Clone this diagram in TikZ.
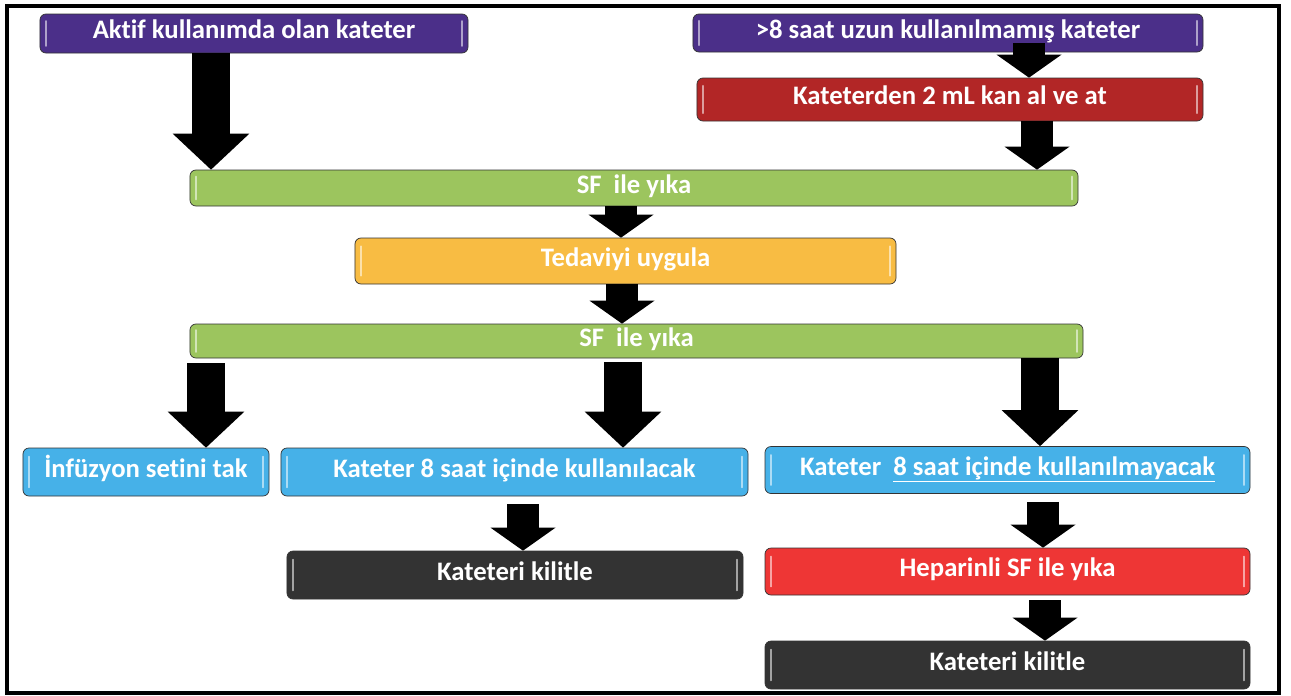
\documentclass[tikz,border=0pt]{standalone}
\usepackage{fontspec}
\setmainfont[Ligatures=NoCommon]{Carlito}
\usetikzlibrary{arrows.meta,calc}
\definecolor{mor}{HTML}{4B2F89}
\definecolor{bordo}{HTML}{B22626}
\definecolor{yesil}{HTML}{9CC55E}
\definecolor{turuncu}{HTML}{F8BC43}
\definecolor{mavi}{HTML}{46B1E8}
\definecolor{koyu}{HTML}{333333}
\definecolor{kirmizi}{HTML}{EE3635}
\newcommand{\kutufont}{\fontsize{22.8}{26}\selectfont\bfseries}
\tikzset{kutu/.append style={draw=black!80, line width=0.6pt, rounded corners=0.18cm, text=white, font=\kutufont, inner sep=0pt, text height=15pt, text depth=6.2pt}}
\tikzset{parla/.style={fill=#1, path picture={
    \draw[line width=1.5pt, #1!45!white, line cap=round]
      ($(path picture bounding box.south west)!0.18!(path picture bounding box.north west)+(0.19cm,0)$) --
      ($(path picture bounding box.south west)!0.82!(path picture bounding box.north west)+(0.19cm,0)$)
      ($(path picture bounding box.south east)!0.18!(path picture bounding box.north east)+(-0.19cm,0)$) --
      ($(path picture bounding box.south east)!0.82!(path picture bounding box.north east)+(-0.19cm,0)$);}}}
\tikzset{ok/.append style={line width=0.96cm, -{Triangle[width=1.95cm,length=0.69cm,line width=0pt]}}}
\tikzset{bok/.append style={line width=1.14cm, -{Triangle[width=2.3cm,length=1.08cm,line width=0pt]}}}

\begin{document}
\begin{tikzpicture}[x=0.03cm,y=-0.03cm]
                \useasboundingbox (0,0) rectangle (1291,695);
                \draw[line width=0.13cm] (7,6) rectangle (1279,693);
                % kutular
                \node[kutu,parla=mor,minimum width=12.84cm,minimum height=1.17cm] (aktif) at (254,33.5) {Aktif kullanımda olan kateter};
                \node[kutu,parla=mor,minimum width=15.30cm,minimum height=1.14cm] (uzun) at (948,33) {>8 saat uzun kullanılmamış kateter};
                \node[kutu,parla=bordo,minimum width=15.18cm,minimum height=1.29cm] (kan) at (950,99.5) {Kateterden 2 mL kan al ve at};
                \node[kutu,parla=yesil,minimum width=26.64cm,minimum height=1.08cm] (sf1) at (634,188) {SF\ \ ile yıka};
                \node[kutu,parla=turuncu,minimum width=16.23cm,minimum height=1.38cm] (tedavi) at (625.5,261) {Tedaviyi uygula};
                \node[kutu,parla=yesil,minimum width=26.79cm,minimum height=1.02cm] (sf2) at (636.5,341) {SF\ \ ile yıka};
                \node[kutu,parla=mavi,minimum width=7.38cm,minimum height=1.44cm] (infuzyon) at (146,472) {İnfüzyon setini tak};
                \node[kutu,parla=mavi,minimum width=14.01cm,minimum height=1.44cm] (kullan) at (514.5,472) {Kateter 8 saat içinde kullanılacak};
                \node[kutu,parla=mavi,minimum width=14.55cm,minimum height=1.41cm] (kullanma) at (1007.5,470) {Kateter\ \ \underline{8 saat içinde kullanılmayacak}};
                \node[kutu,parla=koyu,minimum width=13.68cm,minimum height=1.44cm] (kilit1) at (515,575) {Kateteri kilitle};
                \node[kutu,parla=kirmizi,minimum width=14.55cm,minimum height=1.41cm] (heparin) at (1007.5,571.5) {Heparinli SF ile yıka};
                \node[kutu,parla=koyu,minimum width=14.55cm,minimum height=1.44cm] (kilit2) at (1007.5,665) {Kateteri kilitle};
                % oklar
                \draw[bok] (211,0 |- aktif.south) -- (211,0 |- sf1.north);
                \draw[ok,shorten <=-0.27cm] (1029,0 |- uzun.south) -- (1029,0 |- kan.north);
                \draw[ok] (1037,0 |- kan.south) -- (1037,0 |- sf1.north);
                \draw[ok] (621,0 |- sf1.south) -- (621,0 |- tedavi.north);
                \draw[ok] (622,0 |- tedavi.south) -- (622,0 |- sf2.north);
                \draw[bok,shorten <=0.15cm] (206,0 |- sf2.south) -- (206,0 |- infuzyon.north);
                \draw[bok,shorten <=0.12cm] (623,0 |- sf2.south) -- (623,0 |- kullan.north);
                \draw[bok] (1040,0 |- sf2.south) -- (1040,0 |- kullanma.north);
                \draw[ok,shorten <=0.24cm] (523,0 |- kullan.south) -- (523,0 |- kilit1.north);
                \draw[ok,shorten <=0.24cm] (1043,0 |- kullanma.south) -- (1043,0 |- heparin.north);
                \draw[ok,shorten <=0.15cm] (1045,0 |- heparin.south) -- (1045,0 |- kilit2.north);
            \end{tikzpicture}
\end{document}
